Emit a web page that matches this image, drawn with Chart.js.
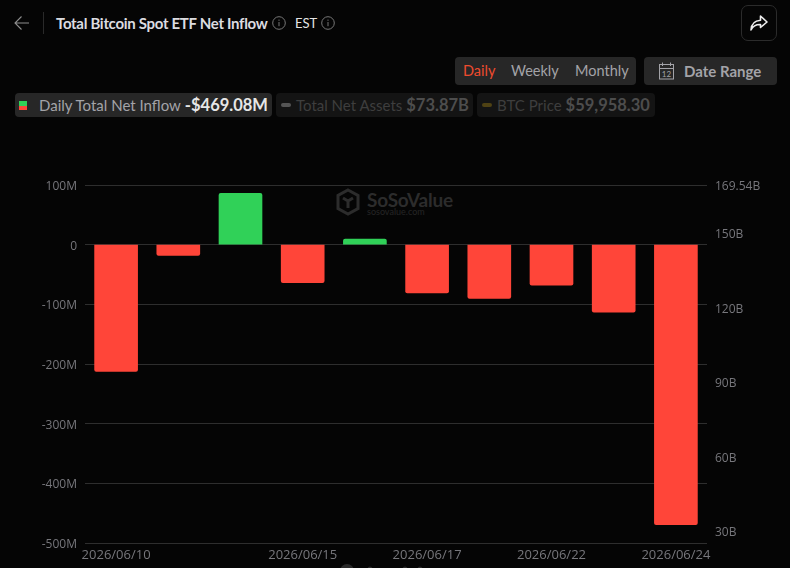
<!DOCTYPE html>
<html>
<head>
<meta charset="utf-8">
<title>Total Bitcoin Spot ETF Net Inflow</title>
<script src="https://cdn.jsdelivr.net/npm/chart.js@4"></script>
<style>
    html, body { margin: 0; padding: 0; background: #050505; }
    body { position: relative; width: 790px; height: 568px; overflow: hidden; font-family: Lato, sans-serif; }
    #netInflowChart { position: absolute; left: 0; top: 0; }
    .abs { position: absolute; white-space: nowrap; }
    .chip { position: absolute; top: 93px; height: 24px; border-radius: 4px; display: flex; align-items: center; box-sizing: border-box; white-space: nowrap; }
    .panel { position: absolute; top: 57px; height: 28px; background: #272727; border-radius: 4px; }
</style>
</head>
<body>
    <!-- Header bar -->
    <svg class="abs" style="left:13px;top:15px" width="18" height="16" viewBox="0 0 18 16" fill="none" stroke="#8e8e8e" stroke-width="1.1">
        <path d="M16 8H2M8.500 1.500L2 8l6.500 6.500"/>
    </svg>
    <div class="abs" style="left:43px;top:12px;width:1px;height:22px;background:#2a2a2a"></div>
    <div class="abs" id="chartTitle" style="left:56px;top:14px;font-size:15px;font-weight:700;letter-spacing:-.3px;color:#dcdce0"></div>
    <svg class="abs" style="left:272px;top:16px" width="14" height="14" viewBox="0 0 14 14" fill="none" stroke="#777" stroke-width="1">
        <circle cx="7" cy="7" r="6.300"/><path d="M7 6v4.200M7 3.600v1.200"/>
    </svg>
    <div class="abs" id="timeZone" style="left:295px;top:15px;font-size:13px;font-weight:400;color:#e4e4e4"></div>
    <svg class="abs" style="left:321px;top:16px" width="14" height="14" viewBox="0 0 14 14" fill="none" stroke="#777" stroke-width="1">
        <circle cx="7" cy="7" r="6.300"/><path d="M7 6v4.200M7 3.600v1.200"/>
    </svg>
    <div class="abs" style="left:741px;top:5px;width:36px;height:36px;box-sizing:border-box;border:1px solid #2b2b2b;border-radius:7px"></div>
    <svg class="abs" style="left:749px;top:14px" width="20" height="18" viewBox="0 0 20 18" fill="none" stroke="#ececec" stroke-width="1.6" stroke-linejoin="round">
        <path d="M11.500 2L18 8l-6.500 5.500V10.500C7 10.300 4 12 2 16c.3-5.500 3.500-9.400 9.500-9.800z"/>
    </svg>

    <!-- Period switch and date range -->
    <div class="panel" style="left:455px;width:181px"></div>
    <div class="abs" style="left:463px;top:62px;font-size:14.5px;color:#ee4b2e">Daily</div>
    <div class="abs" style="left:511px;top:62px;font-size:14.5px;color:#a3a3a8">Weekly</div>
    <div class="abs" style="left:575px;top:62px;font-size:14.5px;color:#a3a3a8">Monthly</div>
    <div class="panel" style="left:644px;width:133px"></div>
    <svg class="abs" style="left:658px;top:62px" width="17" height="18" viewBox="0 0 17 18" fill="none" stroke="#a3a3a8" stroke-width="1">
        <rect x="1.500" y="2.500" width="14" height="14.500"/><path d="M1.500 6.500h14M4.500 .5v3.500M12.500 .5v3.500"/>
        <text x="8.500" y="15" font-size="8" font-family="Lato" fill="#a3a3a8" stroke="none" text-anchor="middle">12</text>
    </svg>
    <div class="abs" style="left:684px;top:62px;font-size:15px;font-weight:700;color:#a3a3a8">Date Range</div>

    <!-- Series chips -->
    <div class="chip" id="chipInflow" style="left:15px;width:257px;background:#272727"></div>
    <div class="chip" id="chipAssets" style="left:276px;width:197px;background:#141414"></div>
    <div class="chip" id="chipPrice" style="left:477px;width:178px;background:#141414"></div>

    <!-- Watermark behind the plot -->
    <svg class="abs" style="left:336px;top:188px" width="24" height="28" viewBox="0 0 24 28" fill="none" stroke="#2c2c2c" stroke-width="3">
        <path d="M12 2l10 5.500v13L12 26 2 20.500v-13z"/><path d="M7 10l5 3 5-3M12 13v7"/>
    </svg>
    <div class="abs" style="left:367px;top:188px;font-size:19px;font-weight:700;color:#2c2c2c;letter-spacing:-.2px">SoSoValue</div>
    <div class="abs" style="left:367px;top:206px;font-size:9px;color:#262626">sosovalue.com</div>

    <!-- Slider handles cut off by the window edge -->
    <svg class="abs" style="left:335px;top:562px" width="100" height="6" fill="#2a2a2a">
        <circle cx="12" cy="9" r="7"/><circle cx="35" cy="7" r="2.500"/><circle cx="70" cy="7" r="2.500"/><circle cx="85" cy="7" r="2.500"/>
    </svg>

    <canvas id="netInflowChart" width="790" height="568"></canvas>

<script>
// Trading days and daily net flow, in millions of dollars
const tradeDates = ['2026/06/10', '2026/06/11', '2026/06/12', '2026/06/15', '2026/06/16', '2026/06/17', '2026/06/18', '2026/06/22', '2026/06/23', '2026/06/24'];
const netInflow = [-212.5, -18, 86, -63.5, 9.5, -81, -90, -68, -113, -469.08];
const shownDates = ['2026/06/10', '2026/06/15', '2026/06/17', '2026/06/22', '2026/06/24'];
const inflowTicks = [100, 0, -100, -200, -300, -400, -500];
const assetTicks = [169.54, 150, 120, 90, 60, 30];

const titleText = 'Total Bitcoin Spot ETF Net Inflow';
const zoneText = 'EST';
const legendNames = ['Daily Total Net Inflow', 'Total Net Assets', 'BTC Price'];
const legendValues = ['-$469.08M', '$73.87B', '$59,958.30'];

const RED = '#ff4539';
const GREEN = '#30d158';

document.getElementById('chartTitle').textContent = titleText;
document.getElementById('timeZone').textContent = zoneText;

function fillChip(id, index, swatch, nameColor, valueColor, gap) {
    const chip = document.getElementById(id);
    chip.innerHTML = swatch +
        '<span style="font-size:15px;color:' + nameColor + ';margin-left:' + gap + 'px">' + legendNames[index] + '</span>' +
        '<span style="font-size:16.5px;font-weight:700;color:' + valueColor + ';margin-left:4px">' + legendValues[index] + '</span>';
}

fillChip('chipInflow', 0,
    '<span style="margin-left:4px;width:8px;height:9px;background:linear-gradient(' + GREEN + ' 50%,' + RED + ' 50%)"></span>',
    '#a3a3a8', '#e6e6e6', 12);
fillChip('chipAssets', 1,
    '<span style="margin-left:5px;width:10px;height:4px;border-radius:2px;background:#555"></span>',
    '#3e3e3e', '#4d4d4d', 5);
fillChip('chipPrice', 2,
    '<span style="margin-left:5px;width:10px;height:4px;border-radius:2px;background:#4f4214"></span>',
    '#3e3e3e', '#4d4d4d', 5);

// Blank first line pushes a y tick label down a little from its grid line
const nudged = (text) => ['', text];
const yTickFont = { family: 'Open Sans', size: 12, lineHeight: '3px' };

const chart = new Chart(document.getElementById('netInflowChart'), {
    type: 'bar',
    data: {
        labels: tradeDates,
        datasets: [{
            label: legendNames[0],
            data: netInflow,
            backgroundColor: netInflow.map(v => v < 0 ? RED : GREEN),
            borderRadius: 2,
            barThickness: 43,
            yAxisID: 'y'
        }]
    },
    options: {
        responsive: false,
        animation: false,
        layout: { padding: { top: 185, left: 0, right: 0, bottom: 0 } },
        plugins: { legend: { display: false }, tooltip: { enabled: false } },
        scales: {
            x: {
                grid: { display: false, drawTicks: false },
                border: { display: false },
                afterFit: (axis) => { axis.height = 25; },
                ticks: {
                    autoSkip: false,
                    maxRotation: 0,
                    padding: 4,
                    color: '#77777c',
                    font: { family: 'Open Sans', size: 13 },
                    callback: function (value) {
                        const label = this.getLabelForValue(value);
                        return shownDates.includes(label) ? label : '';
                    }
                }
            },
            y: {
                position: 'left',
                min: -500,
                max: 100,
                afterBuildTicks: (axis) => { axis.ticks = inflowTicks.map(v => ({ value: v })); },
                afterFit: (axis) => { axis.width = 85; },
                grid: { color: '#2e2e2e', drawTicks: false, lineWidth: 1 },
                border: { display: false },
                ticks: {
                    padding: 8,
                    color: '#77777c',
                    font: yTickFont,
                    callback: (v) => nudged(v === 0 ? '0' : v + 'M')
                }
            },
            assets: {
                position: 'right',
                min: 25.4,
                max: 169.54,
                afterBuildTicks: (axis) => { axis.ticks = assetTicks.map(v => ({ value: v })); },
                afterFit: (axis) => { axis.width = 83; },
                grid: { display: false, drawTicks: false },
                border: { display: false },
                ticks: {
                    padding: 8,
                    color: '#77777c',
                    font: yTickFont,
                    callback: (v) => nudged(v + 'B')
                }
            }
        }
    }
});
</script>
</body>
</html>
